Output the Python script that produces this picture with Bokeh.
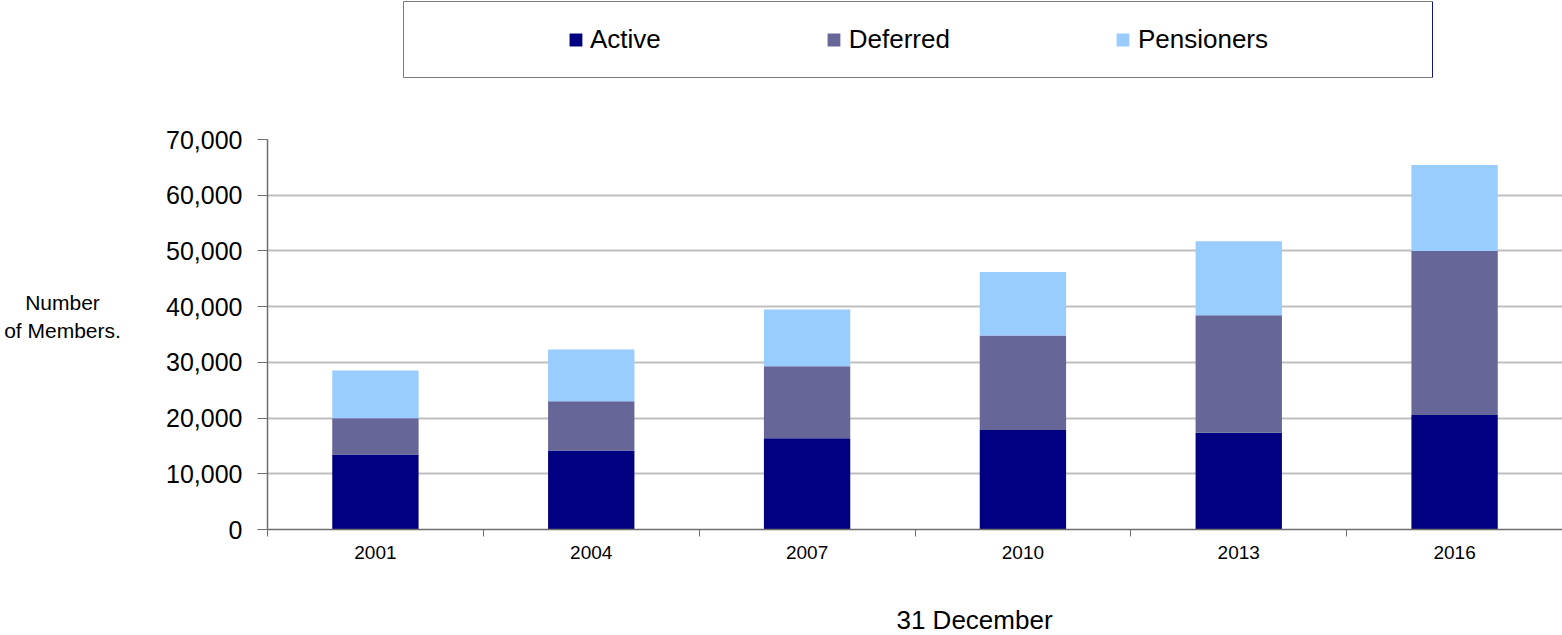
from bokeh.plotting import figure
from bokeh.models import (ColumnDataSource, Range1d, FixedTicker, NumeralTickFormatter,
                          Label, Legend, LegendItem, Spacer)
from bokeh.layouts import column, row
from bokeh.embed import file_html
from bokeh.resources import INLINE

# ---- data ----
years = ["2001", "2004", "2007", "2010", "2013", "2016"]
active = [13480, 14200, 16360, 17870, 17380, 20560]
deferred = [6470, 8810, 12940, 16950, 21090, 29410]
pensioners = [8580, 9290, 10190, 11380, 13250, 15460]
series = ["Active", "Deferred", "Pensioners"]
colors = ["#000080", "#666699", "#99CCFF"]
y_ticks = [0, 10000, 20000, 30000, 40000, 50000, 60000, 70000]

FONT = "Liberation Sans"
AXIS_COLOR = "#6e6e6e"

idx = list(range(len(years)))
source = ColumnDataSource(data=dict(x=idx, Active=active, Deferred=deferred, Pensioners=pensioners))


def blank(width, height, **kw):
    f = figure(width=width, height=height, output_backend="svg", toolbar_location=None,
               x_axis_type=None, y_axis_type=None, min_border=0,
               x_range=Range1d(0, 1), y_range=Range1d(0, 1), **kw)
    f.outline_line_color = None
    f.xgrid.grid_line_color = None
    f.ygrid.grid_line_color = None
    return f


# ---- main chart ----
p = figure(width=1422, height=496, output_backend="svg", toolbar_location=None,
           x_range=Range1d(-0.5, len(years) - 0.5), y_range=Range1d(0, 70000),
           min_border_left=127, min_border_right=0, min_border_top=61, min_border_bottom=45)
p.outline_line_color = None
p.background_fill_color = "white"

p.vbar_stack(series, x="x", width=0.4, color=colors, source=source, line_color=None)

# x axis: labels at categories, ticks at category boundaries (minor ticks)
p.xaxis.ticker = FixedTicker(ticks=idx, minor_ticks=[i - 0.5 for i in range(len(years) + 1)])
p.xaxis.major_label_overrides = {i: y for i, y in enumerate(years)}
p.xaxis.major_tick_out = 0
p.xaxis.major_tick_in = 0
p.xaxis.minor_tick_out = 7
p.xaxis.minor_tick_in = 0
p.xaxis.minor_tick_line_color = AXIS_COLOR
p.xaxis.axis_line_color = AXIS_COLOR
p.xaxis.axis_line_width = 1.5
p.xaxis.major_label_text_font = FONT
p.xaxis.major_label_text_font_size = "19px"
p.xaxis.major_label_text_color = "black"
p.xaxis.major_label_standoff = 9

# y axis
p.yaxis.ticker = FixedTicker(ticks=y_ticks)
p.yaxis.formatter = NumeralTickFormatter(format="0,0")
p.yaxis.major_tick_out = 10
p.yaxis.major_tick_in = 0
p.yaxis.minor_tick_line_color = None
p.yaxis.major_tick_line_color = AXIS_COLOR
p.yaxis.axis_line_color = AXIS_COLOR
p.yaxis.axis_line_width = 1.5
p.yaxis.major_label_text_font = FONT
p.yaxis.major_label_text_font_size = "25px"
p.yaxis.major_label_text_color = "black"
p.yaxis.major_label_standoff = 15

p.xgrid.grid_line_color = None
p.ygrid.grid_line_color = "#bfbfbf"
p.ygrid.grid_line_width = 2

# ---- y axis title (left strip) ----
left = blank(140, 496)
for txt, yy in [("Number", 227), ("of Members.", 199)]:
    left.add_layout(Label(x=62, y=yy, x_units="screen", y_units="screen", text=txt,
                          text_align="center", text_baseline="middle", text_font=FONT,
                          text_font_size="21px", text_color="black"))

# ---- x axis title (bottom strip) ----
bottom = blank(1562, 61)
bottom.add_layout(Label(x=974, y=16, x_units="screen", y_units="screen", text="31 December",
                        text_align="center", text_baseline="middle", text_font=FONT,
                        text_font_size="26px", text_color="black"))

# ---- legend box ----
top = figure(width=1031, height=78, output_backend="svg", toolbar_location=None,
             x_axis_type=None, y_axis_type=None, min_border=1,
             x_range=Range1d(-10, -9), y_range=Range1d(0, 1))
top.outline_line_color = "#7a7a7a"
top.outline_line_width = 1
top.xgrid.grid_line_color = None
top.ygrid.grid_line_color = None
leg_renderers = top.vbar_stack(series, x="x", width=0.4, color=colors, source=source, line_color=None)
items = [LegendItem(label=name, renderers=[r]) for name, r in zip(series, leg_renderers)]
legend = Legend(items=items, orientation="horizontal", location="center",
                border_line_color=None, background_fill_alpha=0,
                padding=0, margin=0, spacing=165, glyph_width=16, glyph_height=16,
                label_standoff=7, label_text_font=FONT, label_text_font_size="26px",
                label_text_color="black")
top.add_layout(legend, "center")

layout = column(row(Spacer(width=402, height=78), top), row(left, p), bottom)

with open("out.html", "w") as f:
    f.write(file_html(layout, INLINE))
